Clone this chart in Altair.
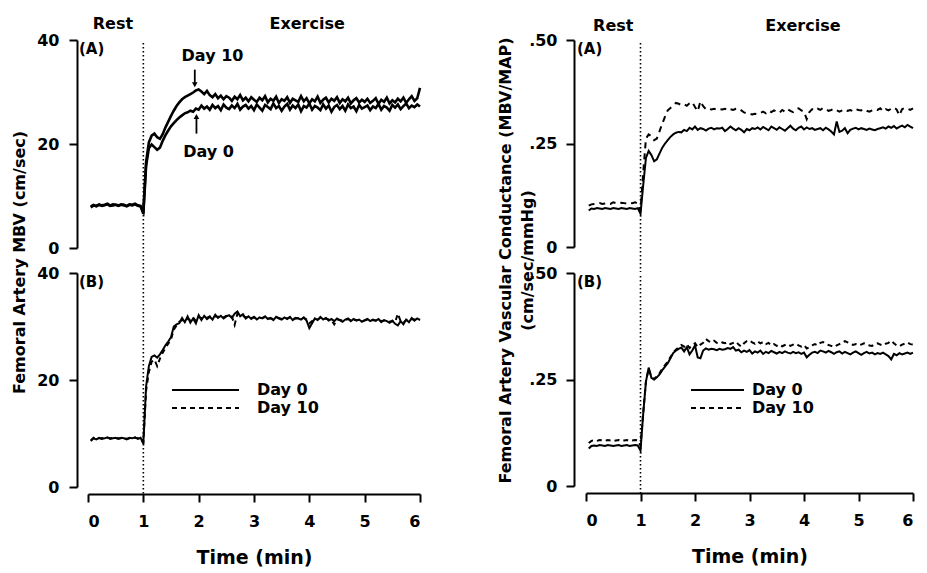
import altair as alt
import pandas as pd

FONT = "DejaVu Sans"

# ---------------- data ----------------
times = [
    0.05, 0.10, 0.15, 0.20, 0.25, 0.30, 0.35, 0.40, 0.45, 0.50,
    0.55, 0.60, 0.65, 0.70, 0.75, 0.80, 0.85, 0.90, 0.95, 1.00,
    1.05, 1.10, 1.15, 1.20, 1.25, 1.30, 1.35, 1.40, 1.45, 1.50,
    1.55, 1.60, 1.65, 1.70, 1.75, 1.80, 1.85, 1.90, 1.95, 2.00,
    2.05, 2.10, 2.15, 2.20, 2.25, 2.30, 2.35, 2.40, 2.45, 2.50,
    2.55, 2.60, 2.65, 2.70, 2.75, 2.80, 2.85, 2.90, 2.95, 3.00,
    3.05, 3.10, 3.15, 3.20, 3.25, 3.30, 3.35, 3.40, 3.45, 3.50,
    3.55, 3.60, 3.65, 3.70, 3.75, 3.80, 3.85, 3.90, 3.95, 4.00,
    4.05, 4.10, 4.15, 4.20, 4.25, 4.30, 4.35, 4.40, 4.45, 4.50,
    4.55, 4.60, 4.65, 4.70, 4.75, 4.80, 4.85, 4.90, 4.95, 5.00,
    5.05, 5.10, 5.15, 5.20, 5.25, 5.30, 5.35, 5.40, 5.45, 5.50,
    5.55, 5.60, 5.65, 5.70, 5.75, 5.80, 5.85, 5.90, 5.95, 6.00,
]

# Panel A, MBV (cm/sec)
mbv_a_day0 = [
    7.8, 8.2, 8.0, 8.3, 8.1, 8.2, 8.4, 8.1, 8.2, 8.3,
    8.1, 8.3, 8.2, 8.0, 8.3, 8.2, 8.4, 8.1, 8.0, 6.6,
    15.8, 19.2, 19.9, 19.4, 18.9, 19.3, 20.6, 21.7, 22.6, 23.4,
    24.0, 24.6, 25.1, 25.5, 25.9, 26.1, 26.4, 26.2, 26.8, 26.6,
    27.4, 26.8, 27.2, 26.6, 27.5, 26.9, 27.3, 26.5, 27.6, 27.0,
    26.7, 27.4, 26.9, 27.7, 26.6, 27.2, 27.5, 26.8, 27.3, 26.5,
    27.6, 27.0, 26.4, 27.5, 27.1, 26.7, 27.8, 26.9, 27.3, 26.4,
    27.2, 27.7, 26.6, 27.4, 26.9, 27.6, 26.3, 27.3, 27.0, 27.8,
    26.6, 27.3, 27.0, 26.5, 27.6, 26.8, 27.4, 26.2, 27.1, 27.5,
    26.7, 27.3, 26.4, 27.6, 26.9, 27.2, 26.3, 27.5, 26.8, 27.1,
    27.4, 26.5, 27.2, 26.9, 27.7, 26.6, 27.3, 27.0, 26.4, 27.5,
    27.0, 27.6, 26.7, 27.3, 27.8, 26.9, 27.4, 27.1, 27.6, 27.2,
]
mbv_a_day10 = [
    8.0, 8.3, 8.1, 8.4, 8.2, 8.3, 8.5, 8.2, 8.4, 8.3,
    8.2, 8.4, 8.3, 8.1, 8.4, 8.3, 8.5, 8.2, 8.1, 7.0,
    16.5, 20.3, 21.6, 22.0, 21.3, 21.0, 21.9, 23.2, 24.3, 25.4,
    26.4, 27.3, 28.0, 28.6, 29.0, 29.3, 29.6, 29.9, 30.3, 30.5,
    30.1, 29.6, 30.2, 29.4, 29.0, 29.6, 28.8, 29.3, 28.6, 29.2,
    28.9, 28.3, 29.1, 28.6, 29.4, 28.4, 28.9, 28.2, 29.0, 28.5,
    28.1, 28.9, 28.4, 29.2, 28.0, 28.7, 28.3, 29.1, 27.9, 28.6,
    28.3, 29.0, 27.9, 28.7, 28.4, 28.1, 29.2, 28.2, 28.8, 27.8,
    28.6, 28.2, 29.1, 27.9, 28.5, 28.9, 28.0, 28.7, 28.3, 29.0,
    27.9, 28.6, 28.2, 28.9, 27.8, 28.4, 28.8, 28.0, 28.5, 28.1,
    28.7, 27.9, 28.3, 28.8, 27.7, 28.5, 28.1, 28.9, 27.8, 28.4,
    28.0, 28.7, 28.2, 28.9, 27.9, 28.6, 29.2, 28.3, 28.8, 30.8,
]

# Panel B, MBV (cm/sec)
mbv_b_day0 = [
    8.6, 9.1, 8.9, 9.2, 9.0, 9.1, 9.3, 9.0, 9.1, 9.2,
    9.0, 9.2, 9.1, 8.9, 9.2, 9.1, 9.3, 9.0, 9.2, 8.1,
    18.8, 22.6, 24.3, 24.6, 24.2, 24.8, 25.6, 26.5, 27.2, 28.0,
    30.0, 30.4, 30.6, 31.6, 30.8, 31.9, 30.7, 31.5, 30.6, 32.1,
    31.2, 32.0, 31.4, 31.8, 31.3, 32.2, 31.6, 32.0, 31.5, 31.9,
    32.1, 31.6, 32.4, 32.8, 31.9, 32.3, 31.5, 31.9, 31.4, 31.8,
    31.3, 31.7, 31.5, 31.9, 31.4, 31.6, 31.2, 31.8, 31.5, 31.3,
    31.7, 31.4, 31.8, 31.2, 31.6, 31.5, 31.3, 31.7, 31.1, 29.7,
    30.6, 31.5, 31.2, 31.8, 31.3, 31.6, 31.1, 31.4, 31.0, 31.5,
    31.2, 30.9, 31.3, 31.5, 31.0, 31.4, 31.1, 31.3, 30.9, 31.2,
    31.4, 31.0, 31.3, 31.1, 31.4, 30.8, 31.2, 31.0, 30.7, 31.1,
    30.5, 30.2, 31.0, 30.4, 31.3, 30.8, 31.6, 31.1, 31.5, 31.2,
]
mbv_b_day10 = [
    8.7, 9.2, 9.0, 9.1, 9.1, 9.2, 9.2, 9.1, 9.2, 9.1,
    9.1, 9.1, 9.2, 9.0, 9.1, 9.2, 9.2, 9.1, 9.1, 8.3,
    18.0, 21.5, 23.4, 23.8, 22.6, 24.0, 25.1, 26.0, 26.8, 27.6,
    29.4, 30.2, 30.9, 31.2, 31.0, 31.5, 31.2, 31.7, 31.0, 31.8,
    31.5, 31.7, 31.6, 31.9, 31.6, 31.9, 31.8, 31.8, 31.7, 32.0,
    31.8, 31.9, 30.3, 32.4, 32.2, 32.0, 31.7, 31.8, 31.6, 31.7,
    31.5, 31.6, 31.6, 31.8, 31.5, 31.5, 31.4, 31.7, 31.6, 31.4,
    31.6, 31.5, 31.7, 31.4, 31.5, 31.6, 31.4, 31.6, 31.3, 30.6,
    31.0, 31.4, 31.3, 31.6, 31.4, 31.5, 31.3, 31.2, 30.4, 31.3,
    31.2, 31.1, 31.2, 31.4, 31.1, 31.3, 31.2, 31.2, 31.0, 31.1,
    31.3, 31.1, 31.2, 31.1, 31.3, 31.0, 31.1, 31.0, 30.9, 31.0,
    30.8, 32.4, 31.0, 30.7, 31.2, 31.0, 31.4, 31.3, 31.4, 31.3,
]

# Panel A, vascular conductance (cm/sec/mmHg)
cond_a_day0 = [
    0.088, 0.093, 0.092, 0.094, 0.093, 0.092, 0.094, 0.093, 0.092, 0.094,
    0.093, 0.092, 0.094, 0.093, 0.092, 0.094, 0.093, 0.092, 0.094, 0.080,
    0.150, 0.215, 0.232, 0.222, 0.207, 0.212, 0.226, 0.240, 0.250, 0.258,
    0.266, 0.272, 0.276, 0.278, 0.277, 0.283, 0.280, 0.288, 0.284, 0.291,
    0.283, 0.287, 0.285, 0.281, 0.286, 0.288, 0.284, 0.287, 0.286, 0.288,
    0.280, 0.285, 0.291, 0.286, 0.282, 0.287, 0.283, 0.277, 0.285, 0.282,
    0.287, 0.285, 0.289, 0.284, 0.290, 0.286, 0.282, 0.291, 0.287, 0.283,
    0.289, 0.285, 0.281, 0.287, 0.293, 0.286, 0.282, 0.288, 0.291, 0.284,
    0.289, 0.285, 0.287, 0.283, 0.285, 0.287, 0.282, 0.288, 0.284, 0.279,
    0.272, 0.303, 0.278, 0.281, 0.287, 0.275, 0.283, 0.286, 0.288, 0.284,
    0.287, 0.285, 0.283, 0.286, 0.284, 0.282, 0.285, 0.287, 0.289, 0.286,
    0.291, 0.288, 0.292, 0.286, 0.290, 0.293, 0.289, 0.295, 0.291, 0.287,
]
cond_a_day10 = [
    0.100, 0.103, 0.104, 0.105, 0.106, 0.104, 0.105, 0.106, 0.104, 0.108,
    0.106, 0.105, 0.107, 0.106, 0.105, 0.107, 0.106, 0.108, 0.105, 0.088,
    0.180, 0.262, 0.272, 0.268, 0.258, 0.262, 0.280, 0.298, 0.315, 0.330,
    0.336, 0.342, 0.348, 0.346, 0.343, 0.345, 0.341, 0.347, 0.350, 0.338,
    0.328, 0.352, 0.340, 0.333, 0.335, 0.332, 0.334, 0.331, 0.333, 0.332,
    0.334, 0.330, 0.333, 0.331, 0.334, 0.335, 0.330, 0.325, 0.323, 0.322,
    0.320, 0.322, 0.321, 0.324, 0.327, 0.323, 0.329, 0.326, 0.330, 0.327,
    0.324, 0.331, 0.327, 0.333, 0.329, 0.326, 0.332, 0.335, 0.330, 0.327,
    0.309, 0.326, 0.333, 0.330, 0.334, 0.331, 0.336, 0.333, 0.329, 0.331,
    0.334, 0.330, 0.327, 0.330, 0.333, 0.329, 0.331, 0.328, 0.333, 0.331,
    0.330, 0.333, 0.329, 0.327, 0.330, 0.333, 0.331, 0.335, 0.328, 0.333,
    0.330, 0.334, 0.337, 0.332, 0.318, 0.333, 0.336, 0.334, 0.331, 0.335,
]

# Panel B, vascular conductance (cm/sec/mmHg)
cond_b_day0 = [
    0.088, 0.094, 0.095, 0.094, 0.096, 0.095, 0.094, 0.096, 0.095, 0.094,
    0.095, 0.096, 0.094, 0.095, 0.096, 0.094, 0.095, 0.096, 0.095, 0.083,
    0.170, 0.245, 0.278, 0.254, 0.250, 0.255, 0.262, 0.272, 0.280, 0.288,
    0.300, 0.312, 0.318, 0.322, 0.325, 0.316, 0.326, 0.309, 0.318, 0.330,
    0.302, 0.300, 0.318, 0.323, 0.320, 0.322, 0.321, 0.319, 0.322, 0.320,
    0.321, 0.324, 0.322, 0.326, 0.318, 0.320, 0.314, 0.318, 0.315, 0.319,
    0.311, 0.316, 0.313, 0.318, 0.310, 0.315, 0.312, 0.317, 0.314, 0.311,
    0.315, 0.312, 0.316, 0.313, 0.311, 0.315, 0.312, 0.314, 0.310, 0.313,
    0.302, 0.308, 0.313, 0.315, 0.312, 0.318, 0.316, 0.313, 0.317, 0.314,
    0.310, 0.314, 0.316, 0.311, 0.315, 0.312, 0.309, 0.313, 0.316, 0.312,
    0.308, 0.312, 0.315, 0.311, 0.313, 0.309, 0.312, 0.310, 0.313, 0.309,
    0.305, 0.297, 0.310, 0.307, 0.312, 0.309, 0.311, 0.313, 0.310, 0.313,
]
cond_b_day10 = [
    0.101, 0.106, 0.107, 0.106, 0.108, 0.107, 0.106, 0.108, 0.107, 0.106,
    0.107, 0.108, 0.106, 0.107, 0.108, 0.106, 0.107, 0.108, 0.107, 0.095,
    0.172, 0.246, 0.275, 0.256, 0.251, 0.257, 0.265, 0.275, 0.284, 0.292,
    0.303, 0.313, 0.320, 0.326, 0.331, 0.327, 0.333, 0.324, 0.330, 0.335,
    0.326, 0.332, 0.336, 0.345, 0.340, 0.337, 0.341, 0.336, 0.334, 0.337,
    0.335, 0.338, 0.333, 0.336, 0.339, 0.332, 0.327, 0.335, 0.340, 0.342,
    0.337, 0.334, 0.339, 0.335, 0.338, 0.333, 0.336, 0.330, 0.333, 0.329,
    0.332, 0.328, 0.331, 0.333, 0.329, 0.332, 0.334, 0.330, 0.327, 0.331,
    0.323, 0.326, 0.330, 0.333, 0.330, 0.336, 0.338, 0.334, 0.331, 0.329,
    0.326, 0.330, 0.333, 0.336, 0.340, 0.337, 0.334, 0.331, 0.333, 0.330,
    0.332, 0.335, 0.333, 0.330, 0.329, 0.333, 0.335, 0.332, 0.330, 0.334,
    0.336, 0.341, 0.335, 0.330, 0.328, 0.332, 0.334, 0.337, 0.333, 0.332,
]

onset_time = [1.0]
phase_labels = ["Rest", "Exercise"]
phase_times_mbv = [0.45, 3.96]
phase_times_cond = [0.5, 3.98]
series_names = ["Day 0", "Day 10"]
x_ticks = [0, 1, 2, 3, 4, 5, 6]
mbv_ticks = [0, 20, 40]
cond_ticks = [0, 0.25, 0.5]

# arrow annotations in MBV panel A
annot_labels = ["Day  10", "Day  0"]
annot_label_t = [2.25, 2.18]
annot_label_v = [36.9, 18.4]
annot_arrow_t = [1.93, 1.96]
annot_arrow_from = [34.3, 22.0]
annot_arrow_to = [31.4, 25.3]

# ---------------- helpers ----------------
XSCALE = alt.Scale(domain=[0, 6], nice=False, zero=False)


def x_axis(show):
    if not show:
        return None
    return alt.Axis(values=x_ticks, format="d", title="Time  (min)", offset=7,
                    labelPadding=11, titleFontSize=19, titlePadding=19)


def y_axis(kind, title, title_x, title_y):
    kw = dict(offset=11 if kind == "mbv" else 12, labelPadding=10 if kind == "mbv" else 9)
    if kind == "mbv":
        kw["values"] = mbv_ticks
        kw["format"] = "d"
    else:
        kw["values"] = cond_ticks
        kw["labelExpr"] = "datum.value == 0 ? '0' : replace(format(datum.value, '.2f'), '0.', '.')"
    if title is None:
        kw["title"] = None
    else:
        kw["title"] = title
        kw["titleX"] = title_x
        kw["titleY"] = title_y
        kw["titleLineHeight"] = 22
    return alt.Axis(**kw)


def panel(day0, day10, kind, tag, width, height, bottom, ytitle=None,
          title_x=0, title_y=0, dash10=None, sw=2.0, legend_x=None, annotate=False):
    field = kind
    ydom = [0, 40] if kind == "mbv" else [0, 0.5]
    yscale = alt.Scale(domain=ydom, nice=False)
    xa = x_axis(bottom)
    ya = y_axis(kind, ytitle, title_x, title_y)

    def X(f):
        return alt.X(f"{f}:Q", scale=XSCALE, axis=xa)

    def Y(f):
        return alt.Y(f"{f}:Q", scale=yscale, axis=ya)

    d0 = pd.DataFrame({"t": times, field: day0})
    d10 = pd.DataFrame({"t": times, field: day10})
    l0 = alt.Chart(d0).mark_line(color="black", strokeWidth=sw).encode(x=X("t"), y=Y(field))
    mk = dict(color="black", strokeWidth=sw)
    if dash10 is not None:
        mk["strokeDash"] = dash10
    l10 = alt.Chart(d10).mark_line(**mk).encode(x=X("t"), y=Y(field))

    onset = alt.Chart(pd.DataFrame({"t": onset_time})).mark_rule(
        color="black", strokeWidth=1.6, strokeDash=[1.6, 2.4]).encode(
        x=X("t"), y=alt.value(3), y2=alt.value(height + (7 if bottom else 25)))

    tag_layer = alt.Chart(pd.DataFrame({"tag": [tag]})).mark_text(
        align="left", baseline="middle", font=FONT, fontWeight="bold", fontSize=15,
        color="black").encode(x=alt.value(-9), y=alt.value(9), text="tag:N")

    layers = [l0, l10, onset, tag_layer]

    if not bottom:
        pt = phase_times_mbv if kind == "mbv" else phase_times_cond
        phase = alt.Chart(pd.DataFrame({"t": pt, "label": phase_labels})).mark_text(
            baseline="middle", font=FONT, fontWeight="bold", fontSize=16,
            color="black").encode(
            x=X("t"), y=alt.value(-16 if kind == "mbv" else -14), text="label:N")
        layers.append(phase)

    if annotate:
        ann = pd.DataFrame({"label": annot_labels, "lt": annot_label_t, "lv": annot_label_v,
                            "at": annot_arrow_t, "a0": annot_arrow_from, "a1": annot_arrow_to,
                            "shape": ["triangle-down", "triangle-up"]})
        txt = alt.Chart(ann).mark_text(baseline="middle", font=FONT, fontWeight="bold",
                                       fontSize=16, color="black").encode(
            x=X("lt"), y=Y("lv"), text="label:N")
        shaft = alt.Chart(ann).mark_rule(color="black", strokeWidth=1.8).encode(
            x=X("at"), y=Y("a0"), y2="a1:Q")
        head = alt.Chart(ann).mark_point(filled=True, color="black", size=32, opacity=1).encode(
            x=X("at"), y=Y("a1"), shape=alt.Shape("shape:N", scale=None))
        layers += [txt, shaft, head]

    if legend_x is not None:
        lx0, lx1, tx = legend_x
        r0 = alt.Chart(pd.DataFrame({"name": [series_names[0]]})).mark_rule(
            color="black", strokeWidth=2).encode(
            x=alt.value(lx0), x2=alt.value(lx1), y=alt.value(117))
        r1 = alt.Chart(pd.DataFrame({"name": [series_names[1]]})).mark_rule(
            color="black", strokeWidth=2, strokeDash=[5, 4]).encode(
            x=alt.value(lx0), x2=alt.value(lx1), y=alt.value(135))
        t0 = alt.Chart(pd.DataFrame({"name": [series_names[0]]})).mark_text(
            align="left", baseline="middle", font=FONT, fontWeight="bold", fontSize=16,
            color="black").encode(x=alt.value(tx), y=alt.value(117), text="name:N")
        t1 = alt.Chart(pd.DataFrame({"name": [series_names[1]]})).mark_text(
            align="left", baseline="middle", font=FONT, fontWeight="bold", fontSize=16,
            color="black").encode(x=alt.value(tx), y=alt.value(135), text="name:N")
        layers += [r0, r1, t0, t1]

    return alt.layer(*layers).properties(width=width, height=height)


left_a = panel(mbv_a_day0, mbv_a_day10, "mbv", "(A)", 332, 208, False, sw=2.6, annotate=True)
left_b = panel(mbv_b_day0, mbv_b_day10, "mbv", "(B)", 332, 214, True,
               ytitle="Femoral Artery MBV (cm/sec)", title_x=-50, title_y=-11,
               dash10=[5, 4], legend_x=(84, 151, 169))
right_a = panel(cond_a_day0, cond_a_day10, "cond", "(A)", 327, 207, False, dash10=[6, 5])
right_b = panel(cond_b_day0, cond_b_day10, "cond", "(B)", 327, 213, True,
                ytitle=["Femoral Artery Vascular Conductance (MBV/MAP)", "(cm/sec/mmHg)"],
                title_x=-61, title_y=-13, dash10=[5, 4], legend_x=(105, 158, 166))

chart = alt.concat(
    left_a, right_a, left_b, right_b,
    columns=2, spacing={"row": 25, "column": 166}, bounds="flush",
).properties(
    padding={"left": 2, "top": 8, "right": 0, "bottom": 0},
    background="white",
).configure_view(stroke=None).configure_axis(
    labelFont=FONT, labelFontWeight="bold", labelFontSize=16, labelColor="black",
    titleFont=FONT, titleFontWeight="bold", titleFontSize=16, titleColor="black",
    domainColor="black", tickColor="black", domainWidth=2, tickWidth=2, tickSize=8,
    grid=False,
)

chart.save("out.html", embed_options={"renderer": "svg", "actions": False})
